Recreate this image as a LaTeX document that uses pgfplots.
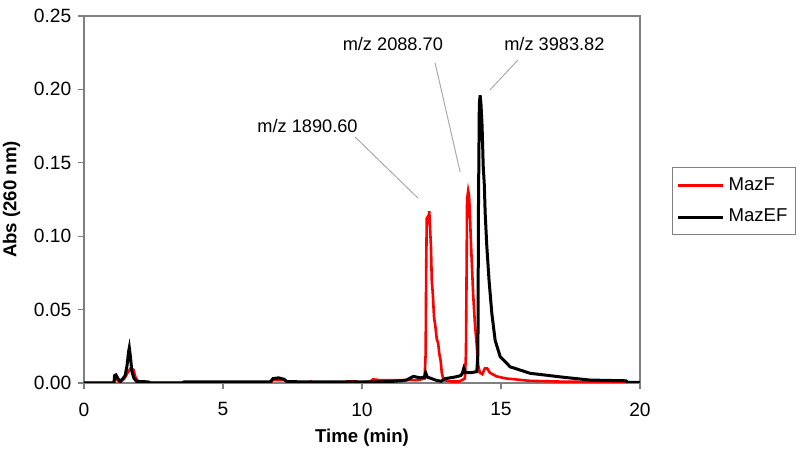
\documentclass[border=0pt]{standalone}
\usepackage{pgfplots}
\pgfplotsset{compat=1.18}
\usepackage{fontspec}
\setmainfont{Liberation Sans}
\definecolor{framegray}{RGB}{128,128,128}
\definecolor{leadgray}{RGB}{170,170,170}
\begin{document}
\begin{tikzpicture}
\useasboundingbox (0,0) rectangle (400pt,232pt);
\begin{axis}[
  at={(42pt,40.5pt)}, anchor=south west,
  scale only axis, width=278pt, height=183.5pt,
  xmin=0, xmax=20, ymin=0, ymax=0.25,
  xtick={0,5,10,15,20}, ytick={0,0.05,0.1,0.15,0.2,0.25},
  axis line style={framegray, line width=0.75pt},
  tick style={framegray, line width=0.6pt},
  tick align=outside, major tick length=2.8pt,
  xtick pos=bottom, ytick pos=left,
  /pgf/number format/assume math mode=true,
  yticklabel style={/pgf/number format/fixed, /pgf/number format/fixed zerofill, /pgf/number format/precision=2},
  xticklabel style={yshift=-3.5pt},
  ticklabel style={font=\fontsize{9.6}{11}\selectfont},
  xlabel={\textbf{Time (min)}}, ylabel={\textbf{Abs (260 nm)}},
  xlabel style={at={(rel axis cs:0.5,0)}, anchor=center, yshift=-27.5pt},
  label style={font=\fontsize{9.3}{11}\selectfont},
  legend style={at={(rel axis cs:1.0576,0.589)}, anchor=north west, draw=framegray, line width=0.5pt,
    font=\fontsize{9.3}{11}\selectfont, inner xsep=2pt, inner ysep=3pt, row sep=4pt},
  legend cell align=left,
  legend image code/.code={\draw[#1] (0pt,0pt) -- (22.5pt,0pt);},
]
\addplot[red, line width=1.3pt] coordinates {
(0,0) (1.05,0) (1.12,0.003) (1.2,0.002) (1.3,0.0005) (1.45,0.003) (1.6,0.008) (1.68,0.010) (1.78,0.009) (1.85,0.004) (1.95,0.001) (2.1,0)
(6.7,0) (6.8,0.002) (7.2,0.002) (7.35,0) (8.1,0) (8.15,0.001) (8.25,0) (9.4,0) (9.45,0.001) (9.8,0.001) (9.85,0)
(10.3,0.001) (10.4,0.0025) (10.6,0.002) (11.0,0.002) (11.5,0.002) (12.0,0.002) (12.25,0.003)
(12.29,0.02) (12.31,0.08) (12.33,0.112) (12.36,0.113) (12.39,0.108) (12.42,0.117) (12.45,0.105) (12.48,0.093)
(12.51,0.07) (12.55,0.06) (12.59,0.045) (12.63,0.040) (12.69,0.030) (12.74,0.027) (12.78,0.020) (12.83,0.015)
(12.87,0.007) (12.93,0.002) (13.2,0.001) (13.5,0.001) (13.7,0.003) (13.74,0.02) (13.76,0.07) (13.78,0.125)
(13.82,0.131) (13.85,0.128) (13.88,0.116) (13.92,0.095) (13.95,0.082) (14.0,0.06) (14.06,0.041) (14.13,0.025)
(14.18,0.012) (14.24,0.007) (14.33,0.006) (14.42,0.010) (14.5,0.010) (14.6,0.007) (14.84,0.0045) (15.2,0.003)
(15.5,0.0025) (16.0,0.0015) (17.0,0.001) (17.8,0.0008) (19.5,0.0005) (20,0)
};
\addlegendentry{MazF}
\addplot[black, line width=1.5pt] coordinates {
(0,0) (1.08,0) (1.1,0.005) (1.15,0.0055) (1.22,0.003) (1.3,0.001) (1.4,0.003) (1.48,0.005) (1.55,0.012) (1.6,0.021)
(1.63,0.024) (1.67,0.018) (1.72,0.008) (1.8,0.003) (1.9,0.001) (2.3,0.0008) (2.4,0) (3.5,0) (3.6,0.0007) (6.7,0.0007)
(6.8,0.003) (7.0,0.0035) (7.2,0.0025) (7.3,0.001) (8.0,0.0007) (10.5,0.0007) (11.0,0.001) (11.4,0.0015) (11.6,0.002)
(11.85,0.0045) (12.09,0.0035) (12.25,0.004) (12.29,0.007) (12.35,0.004) (12.5,0.003) (12.69,0.0017) (12.85,0.0012)
(13.0,0.003) (13.33,0.004) (13.55,0.005) (13.61,0.0066) (13.66,0.010) (13.72,0.007) (13.9,0.007) (14.13,0.0077)
(14.17,0.02) (14.19,0.12) (14.22,0.19) (14.25,0.196) (14.28,0.19) (14.32,0.175) (14.36,0.148) (14.4,0.135)
(14.43,0.116) (14.49,0.093) (14.57,0.070) (14.67,0.0475) (14.79,0.029) (14.97,0.018) (15.33,0.011) (16.05,0.0066)
(17.25,0.0039) (18.2,0.002) (19.5,0.0015) (19.55,0.0005) (20,0.0005)
};
\addlegendentry{MazEF}
\draw[leadgray, line width=0.5pt] (axis cs:9.75,0.1676) -- (axis cs:12.01,0.126);
\draw[leadgray, line width=0.5pt] (axis cs:12.63,0.218) -- (axis cs:13.53,0.1437);
\draw[leadgray, line width=0.5pt] (axis cs:15.61,0.220) -- (axis cs:14.60,0.1996);
\node[font=\fontsize{9.1}{11}\selectfont] at (axis cs:8.04,0.175) {m/z 1890.60};
\node[font=\fontsize{9.1}{11}\selectfont] at (axis cs:11.11,0.2312) {m/z 2088.70};
\node[font=\fontsize{9.1}{11}\selectfont] at (axis cs:16.92,0.2312) {m/z 3983.82};
\end{axis}
\end{tikzpicture}
\end{document}
